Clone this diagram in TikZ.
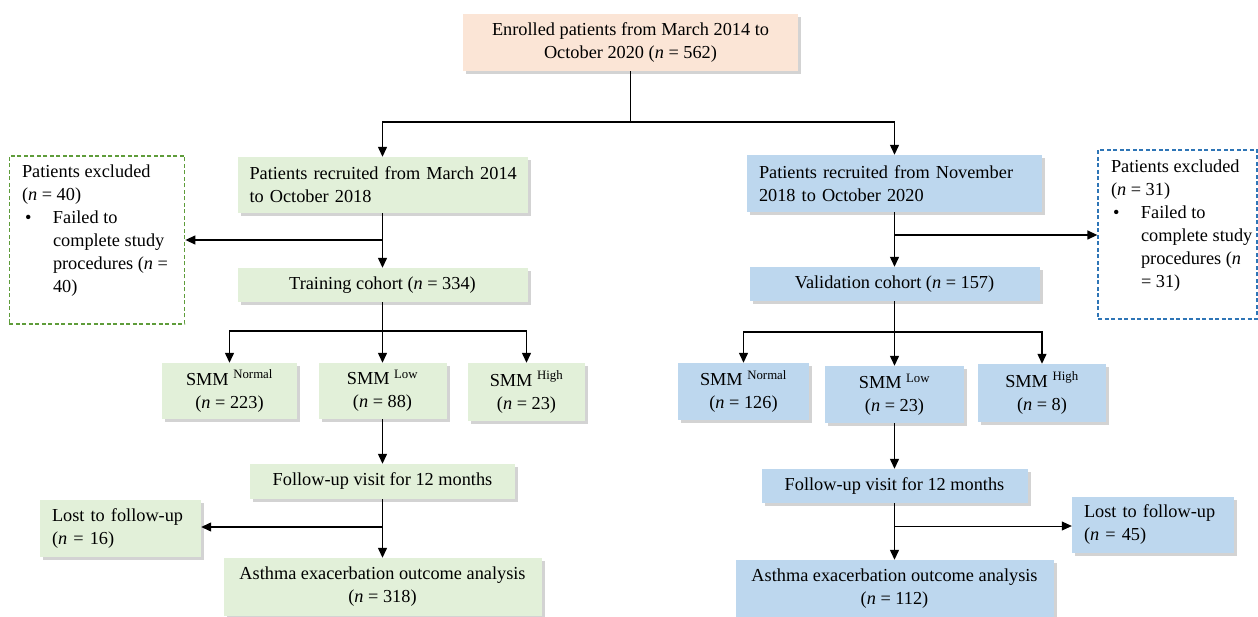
\documentclass[tikz,border=0pt]{standalone}
\usepackage{fontspec}
\setmainfont{Liberation Serif}
\usetikzlibrary{arrows.meta,shadows}
\definecolor{enrolfill}{HTML}{FBE5D6}
\definecolor{trainfill}{HTML}{E2F0D9}
\definecolor{validfill}{HTML}{BDD7EE}
\definecolor{traindash}{HTML}{5E9C3A}
\definecolor{validdash}{HTML}{2E75B6}
\tikzset{
  box/.style={inner xsep=12pt, inner ysep=0pt,
    drop shadow={shadow xshift=3pt, shadow yshift=-3pt, opacity=0.35}},
  enrolbox/.style={box, fill=enrolfill, align=center},
  trainbox/.style={box, fill=trainfill},
  validbox/.style={box, fill=validfill},
  exbox/.style={dash pattern=on 4pt off 2.5pt, line width=1.3pt, inner sep=0pt},
  line/.style={line width=1.3pt},
  arr/.style={line width=1.3pt, -{Triangle[length=10pt,width=9pt]}}
}
\begin{document}
\begin{tikzpicture}[x=1pt,y=-1pt,
  every node/.style={font={\fontsize{18.3}{23}\selectfont}}]
\useasboundingbox (0,0) rectangle (1258,617);

\node[enrolbox, minimum width=335pt, minimum height=57pt] (enrol) at (630.5,42.5)
  {Enrolled patients from March 2014 to\\October 2020 (\textit{n} = 562)};

% training side
\node[trainbox, text width=266pt, minimum height=56pt, align=left] (recL) at (382.5,185)
  {\mbox{Patients recruited from March 2014}\\\mbox{to October 2018}};
\node[exbox, draw=traindash, minimum width=175.5pt, minimum height=168pt] (exL) at (97,240)
  {\parbox[c][150pt][t]{150pt}{Patients excluded\\(\textit{n} = 40)\\
   \mbox{\makebox[31pt][l]{\hspace{3pt}\textbullet}Failed to}\\
   \mbox{\hspace*{31pt}complete study}\\
   \mbox{\hspace*{31pt}procedures (\textit{n} =}\\
   \mbox{\hspace*{31pt}40)}}};
\node[trainbox, minimum width=290pt, minimum height=34pt] (trainL) at (382.5,285)
  {Training cohort (\textit{n} = 334)};
\node[trainbox, minimum width=135pt, minimum height=56pt, align=center] (smmLn) at (229.5,391)
  {SMM \textsuperscript{Normal}\\(\textit{n} = 223)};
\node[trainbox, minimum width=128pt, minimum height=56pt, align=center] (smmLl) at (382.5,391)
  {SMM \textsuperscript{Low}\\(\textit{n} = 88)};
\node[trainbox, minimum width=117pt, minimum height=58pt, align=center] (smmLh) at (526.5,392)
  {SMM \textsuperscript{High}\\(\textit{n} = 23)};
\node[trainbox, minimum width=265pt, minimum height=35pt] (fuL) at (382.5,481.5)
  {Follow-up visit for 12 months};
\node[trainbox, text width=137pt, minimum height=57pt, align=left] (lostL) at (120.5,528.5)
  {Lost to follow-up\\(\textit{n} = 16)};
\node[trainbox, minimum width=318pt, minimum height=58pt, align=center] (asthL) at (382.5,587)
  {Asthma exacerbation outcome analysis\\(\textit{n} = 318)};

% validation side
\node[validbox, text width=271pt, minimum height=57pt, align=left] (recR) at (894.5,183.5)
  {\mbox{Patients recruited from November}\\\mbox{2018 to October 2020}};
\node[exbox, draw=validdash, minimum width=159pt, minimum height=169pt] (exR) at (1177.5,234.5)
  {\parbox[c][150pt][t]{133pt}{Patients excluded\\(\textit{n} = 31)\\
   \mbox{\makebox[30pt][l]{\hspace{2pt}\textbullet}Failed to}\\
   \mbox{\hspace*{30pt}complete study}\\
   \mbox{\hspace*{30pt}procedures (\textit{n}}\\
   \mbox{\hspace*{30pt}= 31)}}};
\node[validbox, minimum width=290pt, minimum height=34pt] (valR) at (894.5,284)
  {Validation cohort (\textit{n} = 157)};
\node[validbox, minimum width=131pt, minimum height=57pt, align=center] (smmRn) at (743.5,391.5)
  {SMM \textsuperscript{Normal}\\(\textit{n} = 126)};
\node[validbox, minimum width=139pt, minimum height=57pt, align=center] (smmRl) at (894.5,394.5)
  {SMM \textsuperscript{Low}\\(\textit{n} = 23)};
\node[validbox, minimum width=128pt, minimum height=58pt, align=center] (smmRh) at (1042,393)
  {SMM \textsuperscript{High}\\(\textit{n} = 8)};
\node[validbox, minimum width=266pt, minimum height=34pt] (fuR) at (894.5,486)
  {Follow-up visit for 12 months};
\node[validbox, text width=138pt, minimum height=56pt, align=left] (lostR) at (1153,525)
  {Lost to follow-up\\(\textit{n} = 45)};
\node[validbox, minimum width=318pt, minimum height=58pt, align=center] (asthR) at (894.5,589)
  {Asthma exacerbation outcome analysis\\(\textit{n} = 112)};

\coordinate (split) at (630.5,122);
\coordinate (brL) at (382.5,240);
\coordinate (splitL) at (382.5,331);
\coordinate (lostbrL) at (382.5,527);
\coordinate (brR) at (894.5,235);
\coordinate (splitR) at (894.5,332);
\coordinate (lostbrR) at (894.5,526);

\draw[line] (enrol) -- (split);
\draw[arr] (split) -| (recL);
\draw[arr] (split) -| (recR);

\draw[arr] (recL) -- (trainL);
\draw[arr] (brL) -- (brL -| exL.east);
\draw[line] (trainL) -- (splitL);
\foreach \n in {smmLn,smmLl,smmLh}
  \draw[arr] (splitL) -| (\n);
\draw[arr] (smmLl) -- (fuL);
\draw[arr] (fuL) -- (asthL);
\draw[arr] (lostbrL) -- (lostbrL -| lostL.east);

\draw[arr] (recR) -- (valR);
\draw[arr] (brR) -- (brR -| exR.west);
\draw[line] (valR) -- (splitR);
\foreach \n in {smmRn,smmRl,smmRh}
  \draw[arr] (splitR) -| (\n);
\draw[arr] (smmRl) -- (fuR);
\draw[arr] (fuR) -- (asthR);
\draw[arr, line width=0.8pt] (lostbrR) -- (lostbrR -| lostR.west);

\end{tikzpicture}
\end{document}
